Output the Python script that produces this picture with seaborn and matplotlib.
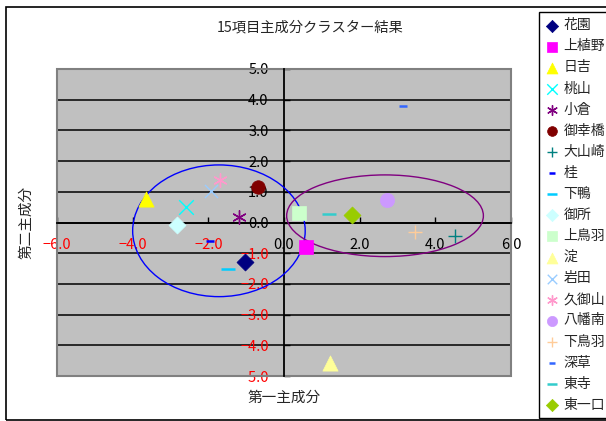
import matplotlib
matplotlib.use("Agg")
import matplotlib.pyplot as plt
from matplotlib.patches import Ellipse, Rectangle
from matplotlib.ticker import FuncFormatter, MultipleLocator
import seaborn as sns
import pandas as pd

# Principal component scores per district
names = ["花園", "上植野", "日吉", "桃山", "小倉", "御幸橋", "大山崎", "桂", "下鴨",
         "御所", "上鳥羽", "淀", "岩田", "久御山", "八幡南", "下鳥羽", "深草", "東寺", "東一口"]
pc1 = [-1.03, 0.57, -3.65, -2.6, -1.2, -0.7, 4.52, -1.96, -1.49,
       -2.84, 0.4, 1.22, -1.93, -1.69, 2.71, 3.45, 3.14, 1.2, 1.8]
pc2 = [-1.3, -0.81, 0.77, 0.5, 0.19, 1.17, -0.43, -0.59, -1.51,
       -0.08, 0.3, -4.59, 1.04, 1.38, 0.73, -0.32, 3.8, 0.28, 0.25]

colors = ["#000080", "#FF00FF", "#FFFF00", "#00FFFF", "#800080", "#800000", "#008080", "#0000FF", "#00CCFF",
          "#CCFFFF", "#CCFFCC", "#FFFF99", "#99CCFF", "#FF99CC", "#CC99FF", "#FFCC99", "#3366FF", "#33CCCC", "#99CC00"]
markers = ["D", "s", "^", "x", (6, 2, 0), "o", "+", "_", "_",
           "D", "s", "^", "x", (6, 2, 0), "o", "+", "_", "_", "D"]
sizes = [75, 95, 120, 110, 95, 95, 110, 30, 115,
         75, 95, 120, 90, 95, 105, 110, 30, 115, 75]
line_w = [0.5, 0.5, 0.5, 1.0, 1.0, 0.5, 1.0, 1.8, 1.8,
          0.5, 0.5, 0.5, 1.0, 1.0, 0.5, 1.0, 1.8, 1.8, 0.5]

# Cluster outlines: (center x, center y, width, height, colour)
clusters = [(-1.72, -0.27, 4.56, 4.29, "#0000FF"),
            (2.67, 0.22, 5.2, 2.66, "#800080")]

df = pd.DataFrame({"name": names, "pc1": pc1, "pc2": pc2})

sns.set_theme(style="white")
plt.rcParams["font.family"] = ["Noto Sans CJK JP", "DejaVu Sans"]

fig = plt.figure(figsize=(6.06, 4.21), dpi=100)
ax = fig.add_axes([57 / 606, 1 - 376 / 421, 454 / 606, 307 / 421])
ax.set_facecolor("#C0C0C0")

for i, row in df.iterrows():
    m = markers[i]
    filled = m in ("D", "s", "^", "o")
    kw = dict(edgecolor=colors[i]) if filled else {}
    sns.scatterplot(x=[row.pc1], y=[row.pc2], ax=ax, marker=m, color=colors[i],
                    s=sizes[i], linewidth=line_w[i], label=row["name"], zorder=4, **kw)

for cx, cy, w, h, c in clusters:
    ax.add_patch(Ellipse((cx, cy), w, h, fill=False, edgecolor=c, lw=1.0, zorder=3))

ax.set_xlim(-6, 6)
ax.set_ylim(-5, 5)
ax.xaxis.set_major_locator(MultipleLocator(2))
ax.yaxis.set_major_locator(MultipleLocator(1))
fmt = FuncFormatter(lambda v, p: f"{v:.1f}".replace("-", "\u2212"))
ax.xaxis.set_major_formatter(fmt)
ax.yaxis.set_major_formatter(fmt)

ax.yaxis.grid(True, color="black", lw=1.1, zorder=1)
ax.xaxis.grid(False)
ax.set_axisbelow(True)

for side in ("top", "right"):
    ax.spines[side].set_visible(False)
ax.spines["left"].set_position(("data", 0))
ax.spines["bottom"].set_position(("data", 0))
for side in ("left", "bottom"):
    ax.spines[side].set_color("black")
    ax.spines[side].set_linewidth(1.3)
    ax.spines[side].set_zorder(2)

ax.add_patch(Rectangle((0, 0), 1, 1, transform=ax.transAxes, fill=False,
                       edgecolor="#808080", lw=1.5, clip_on=False, zorder=2))

ax.tick_params(axis="both", direction="in", length=4, width=1, color="black",
               labelsize=10.5, pad=11, left=True, bottom=True)
fig.canvas.draw()
for lbl in ax.get_xticklabels() + ax.get_yticklabels():
    if lbl.get_text().startswith("\u2212"):
        lbl.set_color("red")
    else:
        lbl.set_color("black")

ax.set_xlabel("第一主成分", fontsize=10.5)
ax.set_ylabel("第二主成分", fontsize=10.5)
ax.xaxis.set_label_coords(0.5, -0.048)
ax.yaxis.set_label_coords(-0.052, 0.5)

fig.text(310 / 606, 1 - 27 / 421, "15項目主成分クラスター結果", ha="center", va="center", fontsize=10.3)

handles, labels = ax.get_legend_handles_labels()
if ax.get_legend():
    ax.get_legend().remove()
leg = fig.legend(handles, labels, loc="upper left", bbox_to_anchor=(539 / 606, 1 - 12 / 421),
                 bbox_transform=fig.transFigure, frameon=True, fancybox=False, framealpha=1,
                 edgecolor="black", fontsize=10, handlelength=0.9, handletextpad=0.4,
                 labelspacing=0.51, borderpad=0.45, borderaxespad=0, scatterpoints=1,
                 markerscale=0.72)
leg.get_frame().set_linewidth(1.0)

fig.patches.append(Rectangle((6 / 606, 1 - 420 / 421), 1.0, 413 / 421, transform=fig.transFigure,
                             fill=False, edgecolor="black", lw=1.2))

fig.savefig("out.png", dpi=100)
